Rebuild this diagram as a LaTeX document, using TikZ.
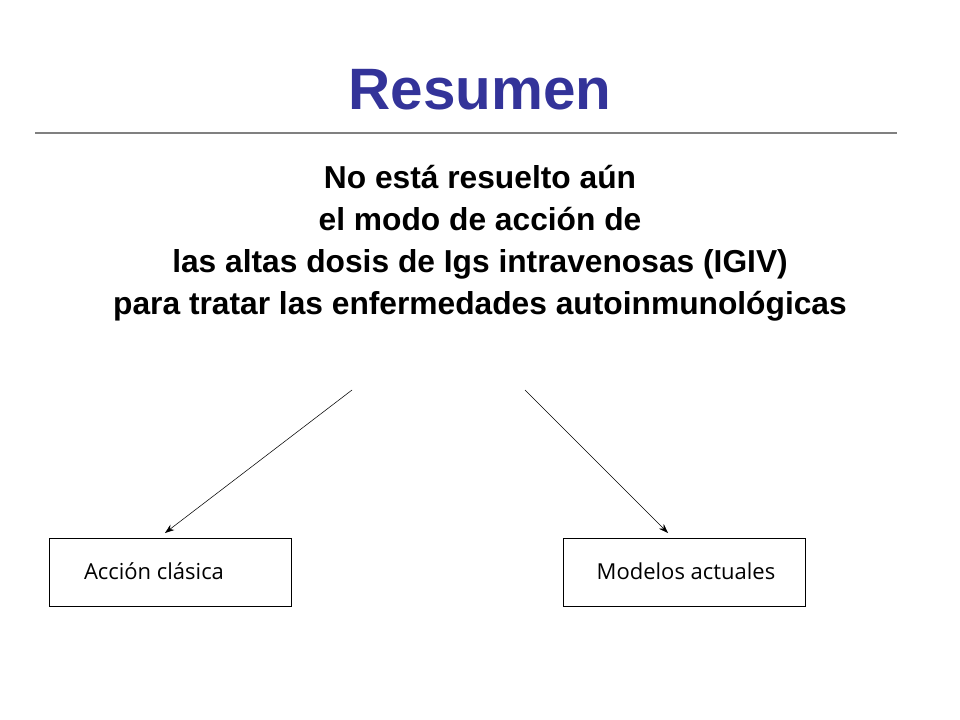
\documentclass[tikz,border=0pt]{standalone}
\usepackage{fontspec}
\usetikzlibrary{arrows.meta}
\setmainfont{Liberation Sans}
\newfontfamily\boxfont{Open Sans}
\definecolor{titleblue}{RGB}{51,51,153}
\begin{document}
\begin{tikzpicture}[x=0.75pt,y=-0.75pt,
  bodytext/.style={font=\fontsize{23.8}{28}\selectfont\bfseries,anchor=base},
  resbox/.style={draw,minimum width=242*0.75pt,minimum height=68*0.75pt,inner sep=0pt},
  boxtext/.style={font=\boxfont\fontsize{16.5}{20}\selectfont,anchor=base},
  arr/.style={-{Stealth[length=7pt,width=5pt]},thin}]
\useasboundingbox (0,0) rectangle (960,720);
\node[anchor=base,text=titleblue,font=\fontsize{43.8}{50}\selectfont\bfseries] (title) at (480,110) {Resumen};
\coordinate (la) at (35,133); \coordinate (lb) at (897,133);
\draw[gray,line width=0.8pt] (la) -- (lb);
\node[bodytext] (t1) at (480,189) {No está resuelto aún};
\node[bodytext] (t2) at (480,231) {el modo de acción de};
\node[bodytext] (t3) at (480,273) {las altas dosis de Igs intravenosas (IGIV)};
\node[bodytext] (t4) at (480,315) {para tratar las enfermedades autoinmunológicas};
\node[resbox] (b1) at (170,572) {};
\node[resbox] (b2) at (684,572) {};
\node[boxtext] (l1) at (154,579) {Acción clásica};
\node[boxtext] (l2) at (686,579) {Modelos actuales};
\coordinate (s1) at (352,390); \coordinate (e1) at (165,533);
\coordinate (s2) at (525,390); \coordinate (e2) at (668,533);
\draw[arr] (s1) -- (e1);
\draw[arr] (s2) -- (e2);
\end{tikzpicture}
\end{document}
